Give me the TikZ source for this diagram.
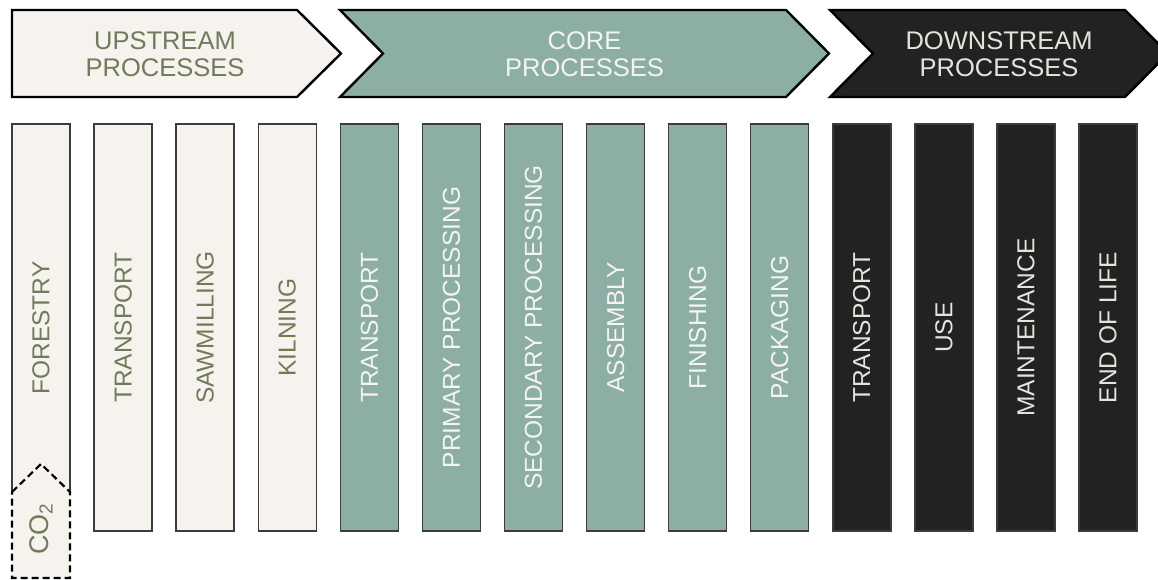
\documentclass[tikz,border=0pt]{standalone}
\usepackage{fontspec}
\setmainfont{Liberation Sans}

\definecolor{upfill}{HTML}{F6F2EE}
\definecolor{uptext}{HTML}{717B5A}
\definecolor{corefill}{HTML}{8DAEA5}
\definecolor{coretext}{HTML}{F4F4F0}
\definecolor{downfill}{HTML}{222222}
\definecolor{downtext}{HTML}{E6E2DC}
\definecolor{boxline}{HTML}{3C3C3C}

\tikzset{
  stage/.style={draw=black,line width=2.4pt,line join=miter},
  stagetext/.style={align=center,font=\fontsize{25.5}{27}\selectfont},
  procbox/.style={rotate=90,draw=boxline,line width=1.4pt,inner sep=0pt,
    minimum width=407pt,minimum height=58pt,font=\fontsize{24.5}{26}\selectfont},
  upbox/.style={fill=upfill,text=uptext},
  corebox/.style={fill=corefill,text=coretext},
  downbox/.style={fill=downfill,text=downtext}
}

\begin{document}
\begin{tikzpicture}[x=1pt,y=-1pt]
  \useasboundingbox (0,0) rectangle (1158,580);
  \clip (0,0) rectangle (1158,580);
  % the three stages
  \draw[stage,fill=upfill] (12,10) -- (297,10) -- (341,53.5) -- (297,97) -- (12,97) -- cycle;
  \draw[stage,fill=corefill] (340,10) -- (786,10) -- (829,53.5) -- (786,97) -- (340,97) -- (383,53.5) -- cycle;
  \draw[stage,fill=downfill] (830,10) -- (1125,10) -- (1168,53.5) -- (1125,97) -- (830,97) -- (873,53.5) -- cycle;
  \node[stagetext,text=uptext] (upstream) at (165,54) {UPSTREAM\\PROCESSES};
  \node[stagetext,text=coretext] (core) at (584.5,54) {CORE\\PROCESSES};
  \node[stagetext,text=downtext] (downstream) at (999,54) {DOWNSTREAM\\PROCESSES};
  % forestry column, cut off by the CO2 box
  \draw[draw=boxline,line width=1.4pt,fill=upfill] (12,492) -- (12,124) -- (70,124) -- (70,492);
  \node[rotate=90,text=uptext,font=\fontsize{24.5}{26}\selectfont] (p1) at (41,328) {FORESTRY};
  \draw[black,line width=2.2pt,dash pattern=on 7pt off 4pt,fill=upfill]
    (12,492) -- (41,464) -- (70,492) -- (70,578) -- (12,578) -- cycle;
  \node[rotate=90,text=uptext,font=\fontsize{27}{29}\selectfont] (co2) at (41,529) {CO\textsubscript{2}};
  % process columns
  \foreach \n/\lab/\kind in {2/TRANSPORT/upbox,3/SAWMILLING/upbox,4/KILNING/upbox,
    5/TRANSPORT/corebox,6/PRIMARY PROCESSING/corebox,7/SECONDARY PROCESSING/corebox,
    8/ASSEMBLY/corebox,9/FINISHING/corebox,10/PACKAGING/corebox,
    11/TRANSPORT/downbox,12/USE/downbox,13/MAINTENANCE/downbox,14/END OF LIFE/downbox}
    \node[procbox,\kind] (p\n) at ({41+82.08*(\n-1)},327.5) {\lab};
\end{tikzpicture}
\end{document}
